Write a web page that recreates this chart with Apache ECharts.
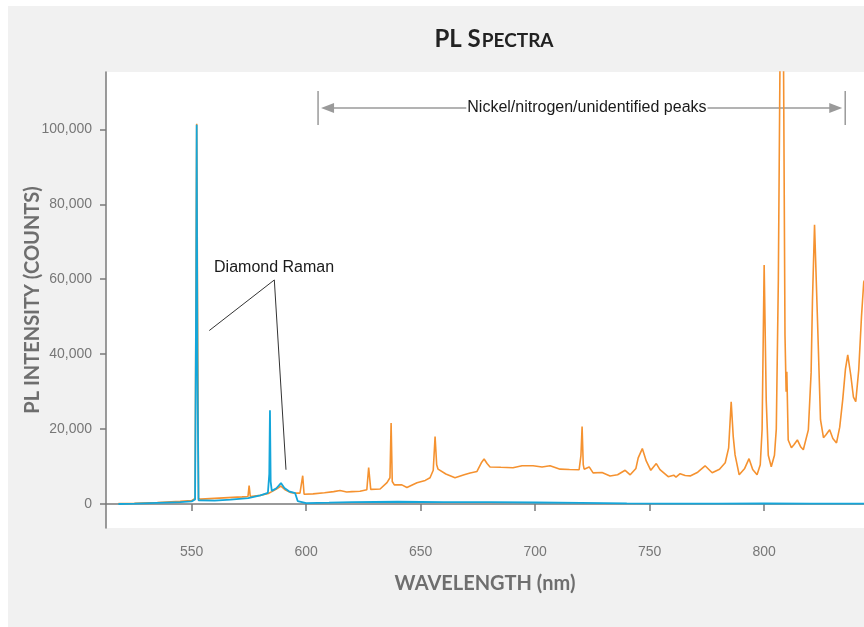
<!DOCTYPE html>
<html>
<head>
<meta charset="utf-8">
<script src="https://cdn.jsdelivr.net/npm/echarts@6/dist/echarts.min.js"></script>
<style>
  html, body { margin: 0; padding: 0; background: #fff; }
  #panel { position: absolute; left: 8px; top: 6px; width: 856px; height: 621px; background: #f1f1f1; }
  #pl-chart { position: absolute; left: 0; top: 0; width: 864px; height: 627px; }
</style>
</head>
<body>
<div id="panel"></div>
<div id="pl-chart"></div>
<script>
// wavelength (nm) / counts
var orange_nm = [518,525,535,545,550,551.5,552.2,553,554,560,566,572,574.6,575.1,575.6,580,583.5,585,587,589,591,593,595.2,597.3,598,598.5,599.1,603,608,612,614.8,617.7,620,623.5,626.5,627.3,628.2,632.3,635.3,636.6,637.1,637.6,638.5,641.8,644,648.4,652,654.1,655.5,656.3,657,657.6,661,665,669,671.6,674.6,676.5,677.7,679,680.3,685,690.3,694.3,699.1,703,706.5,710.9,715,719.2,720,720.5,721,721.4,723.6,725.3,729.2,732.7,736,739.3,741.5,744,745,746.8,748.5,750.5,752.9,754.5,758.1,760.5,761.5,763.3,765.5,767.7,771,774.2,777.3,780.5,783,784.5,785.6,786.5,787.3,789.1,791.5,793.4,795,796.9,798.3,799.1,800,800.9,801.8,803.1,804.5,805.3,806.2,807,808.4,809.1,809.6,809.9,810.5,811.9,813,814.5,816,817.1,819.3,820.5,821.1,822,823.3,824.6,825.9,827,828.6,830,831.6,833,834.3,835.5,836.5,837.8,839,840,841.3,842.5,843.5,845];
var orange_counts = [100,200,400,700,900,1500,101500,1500,1300,1500,1700,1900,2000,4900,2000,2300,2800,3300,4000,4800,3700,3100,2900,2900,3200,7550,2600,2700,3000,3300,3600,3200,3300,3400,3800,9750,3900,4000,5700,7000,21600,6000,5100,5100,4400,5700,6300,7000,9000,18000,10500,9300,8000,7000,7800,8300,8700,11000,12000,10800,9900,9800,9700,10200,10200,9900,10200,9300,9200,9150,13000,20700,10500,9300,9900,8300,8400,7500,7800,9000,7800,9500,12300,14800,11500,9000,10800,9200,7300,7700,7200,8100,7600,7500,8500,10200,8350,9300,11000,15000,27300,18000,13100,7800,9500,12100,9200,7800,10500,19800,63800,27800,13000,9950,13000,20000,60000,125000,125000,45000,30000,35300,17100,15000,15800,17100,15200,14500,19800,35000,54500,74500,49000,22500,17700,18500,19800,17500,16300,20500,27800,36000,39800,34500,28500,27300,35800,50000,59300,61000];

var blue_nm = [518,525,535,545,550,551.5,552,552.2,552.5,553,553.8,560,567,574.7,580,583.3,583.9,584.2,584.5,585,587,589,590.5,592.5,595.2,596,596.3,596.6,600,610,620,640,660,680,700,720,740,760,780,800,820,845];
var blue_counts = [0,100,300,500,700,1200,60000,101200,40000,1000,500,900,1200,1600,2300,3000,8000,25000,6000,3500,4200,5600,4300,3400,2900,2500,800,300,250,350,500,600,500,500,400,300,150,100,100,150,100,100];

var x_ticks = [550,600,650,700,750,800];
var y_ticks = [0,20000,40000,60000,80000,100000];

// annotation anchors in data units
var nickel_range = [605.2, 835.4];
var nickel_y = 105700;
var raman_label = [586, 63000];
var raman_from = [586.1, 59800];
var raman_to = [[557.7, 46300], [591.2, 9150]];

var zip = (xs, ys) => xs.map((x, i) => [x, ys[i]]);

var chart = echarts.init(document.getElementById('pl-chart'));

var option = {
   backgroundColor: 'transparent',
   animation: false,
   title: {
      text: '{a|PL S}{b|PECTRA}',
      left: 489,
      top: 20,
      textAlign: 'center',
      textStyle: {
         rich: {
            a: { fontFamily: 'Lato', fontWeight: 'bold', fontSize: 24, color: '#222', lineHeight: 26, verticalAlign: 'bottom' },
            b: { fontFamily: 'Lato', fontWeight: 'bold', fontSize: 19, color: '#222', lineHeight: 26, verticalAlign: 'bottom', padding: [0, 0, 1, 1] },
         }
      }
   },
   grid: {
      left: 106, top: 72, right: 0, bottom: 99,
      show: true, backgroundColor: '#fff', borderWidth: 0,
   },
   xAxis: {
      type: 'value',
      min: 512.6, max: 843.6,
      name: 'WAVELENGTH (nm)',
      nameLocation: 'middle',
      nameGap: 46,
      nameTextStyle: { fontFamily: 'Lato', fontWeight: 'bold', fontSize: 20, color: '#6e6e6e' },
      axisLine: { lineStyle: { color: '#7a7a7a', width: 1.5 } },
      axisTick: { customValues: x_ticks, length: 7, lineStyle: { color: '#7a7a7a', width: 1.5 } },
      axisLabel: { customValues: x_ticks, margin: 17, fontFamily: 'Liberation Sans', fontSize: 14, color: '#777' },
      splitLine: { show: false },
   },
   yAxis: {
      type: 'value',
      min: -6400, max: 115300,
      name: 'PL INTENSITY (COUNTS)',
      nameLocation: 'middle',
      nameGap: 63,
      nameMoveOverlap: false,
      nameTextStyle: { fontFamily: 'Lato', fontWeight: 'bold', fontSize: 20, color: '#6e6e6e' },
      axisLine: { show: true, lineStyle: { color: '#7a7a7a', width: 1.5 } },
      axisTick: { show: true, customValues: y_ticks, length: 6, lineStyle: { color: '#7a7a7a', width: 1.5 } },
      axisLabel: {
         customValues: y_ticks, margin: 14, fontFamily: 'Liberation Sans', fontSize: 14, color: '#777',
         formatter: v => v.toLocaleString('en-US'),
      },
      splitLine: { show: false },
   },
   series: [
      {
         name: 'orange', type: 'line', data: zip(orange_nm, orange_counts),
         showSymbol: false, clip: true,
         lineStyle: { color: '#F59230', width: 1.6 },
      },
      {
         name: 'blue', type: 'line', data: zip(blue_nm, blue_counts),
         showSymbol: false, clip: true,
         lineStyle: { color: '#14A6DA', width: 1.8 },
      },
   ],
};
chart.setOption(option);

// annotations placed through the axes
var px = p => chart.convertToPixel({ gridIndex: 0 }, p);
var a = px([nickel_range[0], nickel_y]);
var b = px([nickel_range[1], nickel_y]);
var barHalf = 17;
var mid = px([(nickel_range[0] + nickel_range[1]) / 2 + 2.3, nickel_y]);
var rl = px(raman_label);
var rf = px(raman_from);
var arrowGray = '#9a9a9a';

var graphics = [
   { type: 'line', shape: { x1: a[0], y1: a[1] - barHalf, x2: a[0], y2: a[1] + barHalf }, style: { stroke: arrowGray, lineWidth: 1.5 } },
   { type: 'line', shape: { x1: b[0], y1: b[1] - barHalf, x2: b[0], y2: b[1] + barHalf }, style: { stroke: arrowGray, lineWidth: 1.5 } },
   { type: 'line', shape: { x1: a[0] + 10, y1: a[1], x2: b[0] - 10, y2: b[1] }, style: { stroke: arrowGray, lineWidth: 1.5 } },
   { type: 'polygon', shape: { points: [[a[0] + 3, a[1]], [a[0] + 16, a[1] - 5], [a[0] + 16, a[1] + 5]] }, style: { fill: arrowGray } },
   { type: 'polygon', shape: { points: [[b[0] - 3, b[1]], [b[0] - 16, b[1] - 5], [b[0] - 16, b[1] + 5]] }, style: { fill: arrowGray } },
   {
      type: 'text', x: mid[0], y: mid[1],
      style: {
         text: 'Nickel/nitrogen/unidentified peaks', fontFamily: 'Liberation Sans', fontSize: 16,
         fill: '#1a1a1a', align: 'center', verticalAlign: 'middle', backgroundColor: '#fff', padding: [2, 1],
      }
   },
   {
      type: 'text', x: rl[0], y: rl[1],
      style: { text: 'Diamond Raman', fontFamily: 'Liberation Sans', fontSize: 16, fill: '#1a1a1a', align: 'center', verticalAlign: 'middle' }
   },
];
raman_to.forEach(p => {
   var q = px(p);
   graphics.push({ type: 'line', shape: { x1: rf[0], y1: rf[1], x2: q[0], y2: q[1] }, style: { stroke: '#333', lineWidth: 1 } });
});
chart.setOption({ graphic: graphics });
</script>
</body>
</html>
